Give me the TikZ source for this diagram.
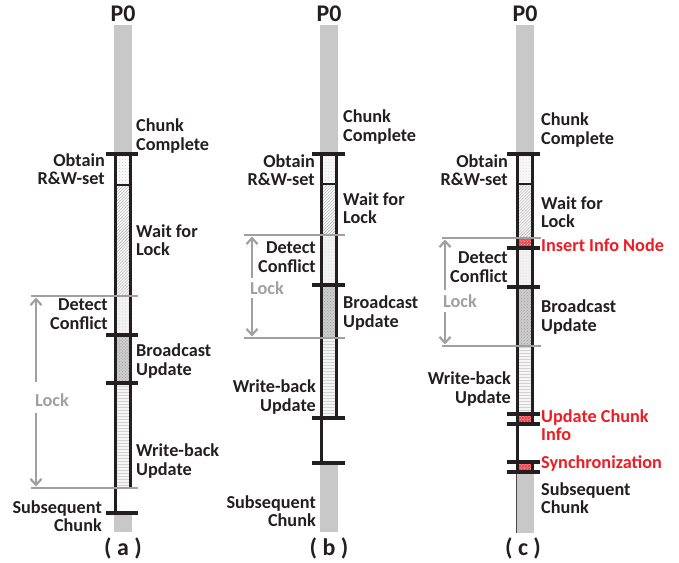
\documentclass[tikz,border=0pt]{standalone}
\usepackage{fontspec}
\setmainfont{Carlito}
\usetikzlibrary{patterns,arrows.meta}
\definecolor{barg}{RGB}{200,200,200}
\definecolor{lockg}{RGB}{160,160,160}
\definecolor{myred}{RGB}{237,28,36}
\definecolor{ink}{RGB}{35,31,32}
\tikzset{
  lbl/.style={font=\fontsize{18.3}{18.6}\selectfont\bfseries, inner sep=0pt, text=ink},
  lblw/.style={lbl, anchor=west, align=left},
  lble/.style={lbl, anchor=east, align=right},
  redlbl/.style={lblw, text=myred},
  title/.style={font=\fontsize{24}{26}\selectfont\bfseries, inner sep=0pt, text=ink},
  locklbl/.style={lbl, anchor=west, text=lockg},
  edge/.style={line width=3.3pt, ink},
  tick/.style={line width=3.2pt, ink},
  gline/.style={line width=3pt, lockg},
  garrow/.style={line width=2.2pt, lockg, -{Straight Barb[length=6pt,width=11pt,line width=2.2pt]}},
  obtainseg/.style={preaction={fill=gray!6}, pattern=dots, pattern color=gray!30},
  waitseg/.style={preaction={fill=gray!5}, pattern=north east lines, pattern color=gray!65},
  detectseg/.style={preaction={fill=gray!10}, pattern=dots, pattern color=gray!35},
  bcastseg/.style={preaction={fill=gray!40}, pattern=crosshatch dots, pattern color=gray!75},
  wbseg/.style={preaction={fill=gray!8}, pattern=horizontal lines, pattern color=gray!35},
  redseg/.style={preaction={fill=myred!85}, pattern=crosshatch dots, pattern color=white},
}
\begin{document}
\begin{tikzpicture}[x=1bp,y=-1bp]
\useasboundingbox (0,0) rectangle (679,563);

% ---------------- (a) ----------------
\begin{scope}[shift={(114,0)}]
  \fill[barg] (0,25) rectangle (18,154);
  \fill[obtainseg] (1.5,154) rectangle (16.5,185);
  \fill[waitseg] (1.5,185) rectangle (16.5,296);
  \fill[detectseg] (1.5,296) rectangle (16.5,335);
  \fill[bcastseg] (1.5,335) rectangle (16.5,383);
  \fill[wbseg] (1.5,383) rectangle (16.5,488);
  \fill[barg] (0,513) rectangle (18,532);
  \draw[edge] (1.5,154) -- (1.5,513);
  \draw[edge] (16.5,154) -- (16.5,488);
  \draw[line width=2.5pt, ink] (0,185) -- (18,185);
  \draw[tick] (-8,154) -- (24,154);
  \draw[tick] (-8,335) -- (24,335);
  \draw[tick] (-8,383) -- (24,383);
  \draw[tick] (-8,513) -- (24,513);
  \draw[gline] (-83,296) -- (24,296);
  \draw[gline] (-83,488) -- (24,488);
  \coordinate (aup1) at (-78,382);
  \coordinate (aup2) at (-78,297.5);
  \coordinate (adn1) at (-78,413);
  \coordinate (adn2) at (-78,486.5);
  \draw[garrow] (aup1) -- (aup2);
  \draw[garrow] (adn1) -- (adn2);
  \node[locklbl] (alock) at (-79,400) {Lock};
  \node[title] (ap0) at (9,14) {P0};
  \node[lblw] (acc) at (22,136) {Chunk\\Complete};
  \node[lble] (aob) at (-9,169) {Obtain\\R\&W-set};
  \node[lblw] (awl) at (22,240) {Wait for\\Lock};
  \node[lble] (adc) at (-6,314) {Detect\\Conflict};
  \node[lblw] (abu) at (22,361) {Broadcast\\Update};
  \node[lblw] (awb) at (22,461) {Write-back\\Update};
  \node[lble] (asc) at (-12,516) {Subsequent\\Chunk};
  \node[title] (acap) at (9,548) {( a )};
\end{scope}

% ---------------- (b) ----------------
\begin{scope}[shift={(320,0)}]
  \fill[barg] (0,25) rectangle (18,154);
  \fill[obtainseg] (1.5,154) rectangle (16.5,184);
  \fill[waitseg] (1.5,184) rectangle (16.5,235);
  \fill[detectseg] (1.5,235) rectangle (16.5,285);
  \fill[bcastseg] (1.5,285) rectangle (16.5,338);
  \fill[wbseg] (1.5,338) rectangle (16.5,418);
  \fill[barg] (0,463) rectangle (18,532);
  \draw[edge] (1.5,154) -- (1.5,463);
  \draw[edge] (16.5,154) -- (16.5,418);
  \draw[line width=2.5pt, ink] (0,184) -- (18,184);
  \draw[tick] (-8,154) -- (25,154);
  \draw[tick] (-8,285) -- (25,285);
  \draw[tick] (-8,418) -- (25,418);
  \draw[tick] (-8,463) -- (25,463);
  \draw[gline] (-76,235) -- (25,235);
  \draw[gline] (-76,338) -- (25,338);
  \coordinate (bup1) at (-68,278);
  \coordinate (bup2) at (-68,236.5);
  \coordinate (bdn1) at (-68,298);
  \coordinate (bdn2) at (-68,336.5);
  \draw[garrow] (bup1) -- (bup2);
  \draw[garrow] (bdn1) -- (bdn2);
  \node[locklbl] (block) at (-70,288) {Lock};
  \node[title] (bp0) at (9,14) {P0};
  \node[lblw] (bcc) at (23,127) {Chunk\\Complete};
  \node[lble] (bob) at (-5,170) {Obtain\\R\&W-set};
  \node[lblw] (bwl) at (23,208) {Wait for\\Lock};
  \node[lble] (bdc) at (-4,257) {Detect\\Conflict};
  \node[lblw] (bbu) at (23,313) {Broadcast\\Update};
  \node[lble] (bwb) at (-4,397) {Write-back\\Update};
  \node[lble] (bsc) at (-4,511) {Subsequent\\Chunk};
  \node[title] (bcap) at (9,548) {( b )};
\end{scope}

% ---------------- (c) ----------------
\begin{scope}[shift={(516,0)}]
  \fill[barg] (0,25) rectangle (18,154);
  \fill[obtainseg] (1.5,154) rectangle (16.5,184);
  \fill[waitseg] (1.5,184) rectangle (16.5,238);
  \fill[redseg] (1.5,238) rectangle (16.5,248);
  \fill[detectseg] (1.5,248) rectangle (16.5,287);
  \fill[bcastseg] (1.5,287) rectangle (16.5,346);
  \fill[wbseg] (1.5,346) rectangle (16.5,414);
  \fill[redseg] (1.5,414) rectangle (16.5,424);
  \fill[redseg] (1.5,462) rectangle (16.5,472);
  \fill[barg] (0,472) rectangle (18,533);
  \draw[edge] (1.5,154) -- (1.5,472);
  \draw[line width=1pt, black!70] (0.5,472) -- (0.5,533);
  \draw[edge] (16.5,154) -- (16.5,424);
  \draw[edge] (16.5,462) -- (16.5,472);
  \draw[line width=2pt, ink] (0,184) -- (18,184);
  \draw[tick] (-9,154) -- (24,154);
  \draw[tick] (-9,248) -- (24,248);
  \draw[tick] (-9,287) -- (24,287);
  \draw[tick] (-9,414) -- (24,414);
  \draw[tick] (-9,424) -- (24,424);
  \draw[tick] (-9,462) -- (24,462);
  \draw[tick] (-9,472) -- (24,472);
  \draw[gline] (-74,238) -- (25,238);
  \draw[gline] (-74,346) -- (25,346);
  \coordinate (cup1) at (-71,290);
  \coordinate (cup2) at (-71,239.5);
  \coordinate (cdn1) at (-71,312);
  \coordinate (cdn2) at (-71,344.5);
  \draw[garrow] (cup1) -- (cup2);
  \draw[garrow] (cdn1) -- (cdn2);
  \node[locklbl] (clock) at (-73,301) {Lock};
  \node[title] (cp0) at (9,14) {P0};
  \node[lblw] (ccc) at (25,130) {Chunk\\Complete};
  \node[lble] (cob) at (-8,170) {Obtain\\R\&W-set};
  \node[lblw] (cwl) at (25,212) {Wait for\\Lock};
  \node[redlbl] (cin) at (25,245) {Insert Info Node};
  \node[lble] (cdc) at (-8,267) {Detect\\Conflict};
  \node[lblw] (cbu) at (25,317) {Broadcast\\Update};
  \node[lble] (cwb) at (-5,389) {Write-back\\Update};
  \node[redlbl] (cuc) at (25,425) {Update Chunk\\Info};
  \node[redlbl] (csy) at (25,464) {Synchronization};
  \node[lblw] (csc) at (25,498) {Subsequent\\Chunk};
  \node[title] (ccap) at (7,548) {( c )};
\end{scope}
\end{tikzpicture}
\end{document}
